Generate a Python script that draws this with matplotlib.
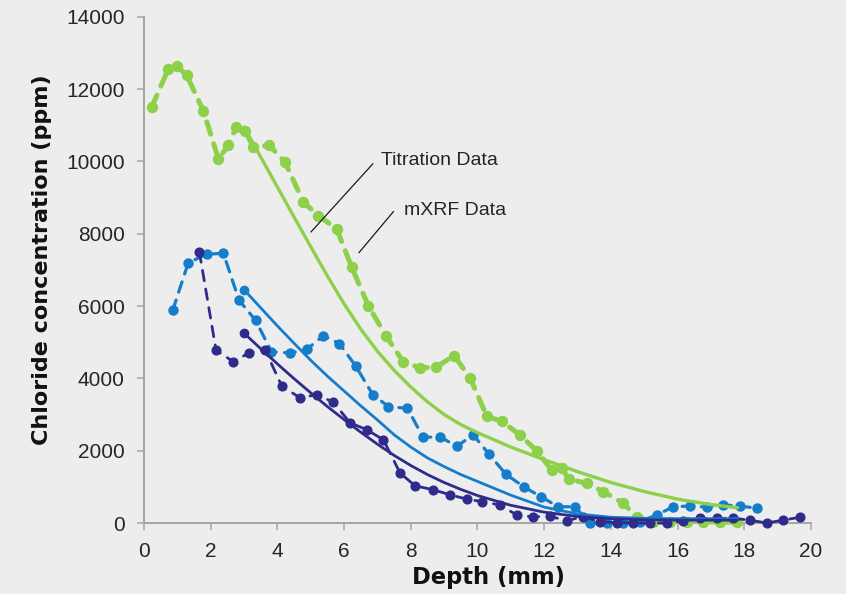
import numpy as np
import matplotlib
matplotlib.use('Agg')
from matplotlib import pyplot as plt

# mXRF profiles (dashed with dots)
green_x = [0.23, 0.73, 0.98, 1.28, 1.78, 2.23, 2.53, 2.76, 3.03, 3.28, 3.76, 4.23, 4.78, 5.23, 5.78,
           6.23, 6.73, 7.26, 7.78, 8.28, 8.76, 9.30, 9.78, 10.28, 10.73, 11.27, 11.77, 12.22, 12.52,
           12.75, 13.27, 13.77, 14.37, 14.77, 15.27, 15.77, 16.27, 16.77, 17.27, 17.77]
green_y = [11500, 12550, 12640, 12380, 11400, 10070, 10440, 10950, 10850, 10390, 10440, 9980, 8870,
           8500, 8130, 7070, 6000, 5170, 4450, 4290, 4310, 4630, 4010, 2950, 2810, 2440, 2000, 1470,
           1520, 1210, 1100, 870, 550, 160, 30, 30, 40, 30, 30, 20]

blue_x = [0.86, 1.33, 1.88, 2.38, 2.85, 3.35, 3.82, 4.38, 4.88, 5.38, 5.86, 6.35, 6.86, 7.33, 7.9,
          8.37, 8.88, 9.38, 9.87, 10.34, 10.85, 11.39, 11.90, 12.42, 12.92, 13.37, 13.87, 14.37,
          14.87, 15.37, 15.87, 16.37, 16.87, 17.37, 17.87, 18.37]
blue_y = [5880, 7200, 7430, 7460, 6160, 5600, 4740, 4700, 4800, 5180, 4960, 4340, 3550, 3220, 3170,
          2370, 2380, 2120, 2440, 1910, 1350, 1000, 730, 450, 450, 0, 0, 0, 40, 220, 450, 470, 440,
          500, 470, 410]

navy_x = [1.66, 2.16, 2.68, 3.16, 3.63, 4.13, 4.68, 5.18, 5.68, 6.18, 6.68, 7.18, 7.68, 8.13, 8.67,
          9.18, 9.68, 10.15, 10.67, 11.18, 11.67, 12.17, 12.67, 13.17, 13.67, 14.17, 14.67, 15.17,
          15.67, 16.17, 16.67, 17.17, 17.67, 18.17, 18.67, 19.17, 19.67]
navy_y = [7500, 4780, 4460, 4710, 4790, 3790, 3460, 3550, 3340, 2770, 2580, 2300, 1380, 1030, 920,
          780, 660, 590, 500, 220, 170, 190, 60, 180, 40, 10, 0, 0, 0, 60, 130, 130, 130, 80, 0, 80, 160]

# titration fits (solid)
fit_x = [3.0, 3.5, 4.0, 4.5, 5.0, 5.5, 6.0, 6.5, 7.0, 7.5, 8.0, 8.5, 9.0, 9.5, 10.0, 11.0, 12.0,
         13.0, 14.0, 15.0, 16.0, 17.0, 17.8]
green_fit = [10950, 10120, 9290, 8460, 7640, 6830, 6060, 5360, 4750, 4220, 3760, 3350, 3000, 2720,
             2500, 2100, 1750, 1420, 1120, 870, 660, 510, 420]
blue_fit = [6450, 5950, 5450, 4970, 4500, 4060, 3650, 3240, 2850, 2440, 2100, 1800, 1560, 1340, 1150,
            770, 440, 250, 160, 130, 120, 120, 120]
navy_fit = [5250, 4820, 4400, 3990, 3600, 3220, 2860, 2510, 2180, 1870, 1590, 1340, 1120, 930, 760,
            490, 300, 180, 120, 90, 80, 80, 80]

x_ticks = [0, 2, 4, 6, 8, 10, 12, 14, 16, 18, 20]
y_ticks = [0, 2000, 4000, 6000, 8000, 10000, 12000, 14000]

GREEN = '#8DD04A'
BLUE = '#167DCB'
NAVY = '#2F2B8C'
BG = '#EDEDED'
AXC = '#A6A6A6'

fig = plt.figure(figsize=(8.46, 5.94), dpi=100, facecolor=BG)
ax = fig.add_axes([0.1702, 0.1195, 0.7884, 0.8524])
ax.set_facecolor(BG)

# dashed mXRF series
ax.plot(green_x, green_y, color=GREEN, lw=3.6, ls=(0, (2.6, 2.0)), dash_capstyle='round',
        marker='o', ms=7.2, clip_on=False, zorder=3)
ax.plot(blue_x, blue_y, color=BLUE, lw=2.3, ls=(0, (3.4, 2.6)), dash_capstyle='round',
        marker='o', ms=6.5, clip_on=False, zorder=3)
ax.plot(navy_x, navy_y, color=NAVY, lw=2.0, ls=(0, (3.8, 3.0)), dash_capstyle='round',
        marker='o', ms=6.3, clip_on=False, zorder=4)

# solid fits
ax.plot(fit_x, green_fit, color=GREEN, lw=2.4, solid_capstyle='round', zorder=5)
ax.plot(fit_x, blue_fit, color=BLUE, lw=2.0, solid_capstyle='round', zorder=5)
ax.plot(fit_x, navy_fit, color=NAVY, lw=2.0, solid_capstyle='round', zorder=5)
for fy, c in [(blue_fit, BLUE), (navy_fit, NAVY)]:
    ax.plot(fit_x[0], fy[0], 'o', color=c, ms=6, zorder=5)

# annotations
ax.plot([5.01, 6.86], [8050, 9930], color='#1a1a1a', lw=0.9, zorder=6)
ax.plot([6.45, 7.48], [7480, 8610], color='#1a1a1a', lw=0.9, zorder=6)
ax.text(7.11, 9912, 'Titration Data', fontsize=14, family='Liberation Sans', color='#262626',
        va='baseline', ha='left')
ax.text(7.80, 8516, 'mXRF Data', fontsize=14, family='Liberation Sans', color='#262626',
        va='baseline', ha='left')

ax.set_xlim(0, 20)
ax.set_ylim(0, 14000)
ax.set_xticks(x_ticks)
ax.set_yticks(y_ticks)
for s in ['top', 'right']:
    ax.spines[s].set_visible(False)
for s in ['left', 'bottom']:
    ax.spines[s].set_color(AXC)
    ax.spines[s].set_linewidth(1.4)
ax.tick_params(axis='both', direction='out', length=5, width=1.1, color=AXC,
               labelsize=15, labelcolor='#262626', pad=9)
for lab in ax.get_xticklabels() + ax.get_yticklabels():
    lab.set_family('Liberation Sans')

ax.set_xlabel('Depth (mm)', fontsize=16.3, fontweight='bold', family='DejaVu Sans', color='#111111')
ax.set_ylabel('Chloride concentration (ppm)', fontsize=16, fontweight='bold', family='DejaVu Sans',
              color='#111111')
ax.xaxis.set_label_coords(0.516, -0.085)
ax.yaxis.set_label_coords(-0.138, 0.52)

fig.savefig('out.png', dpi=100, facecolor=BG)
